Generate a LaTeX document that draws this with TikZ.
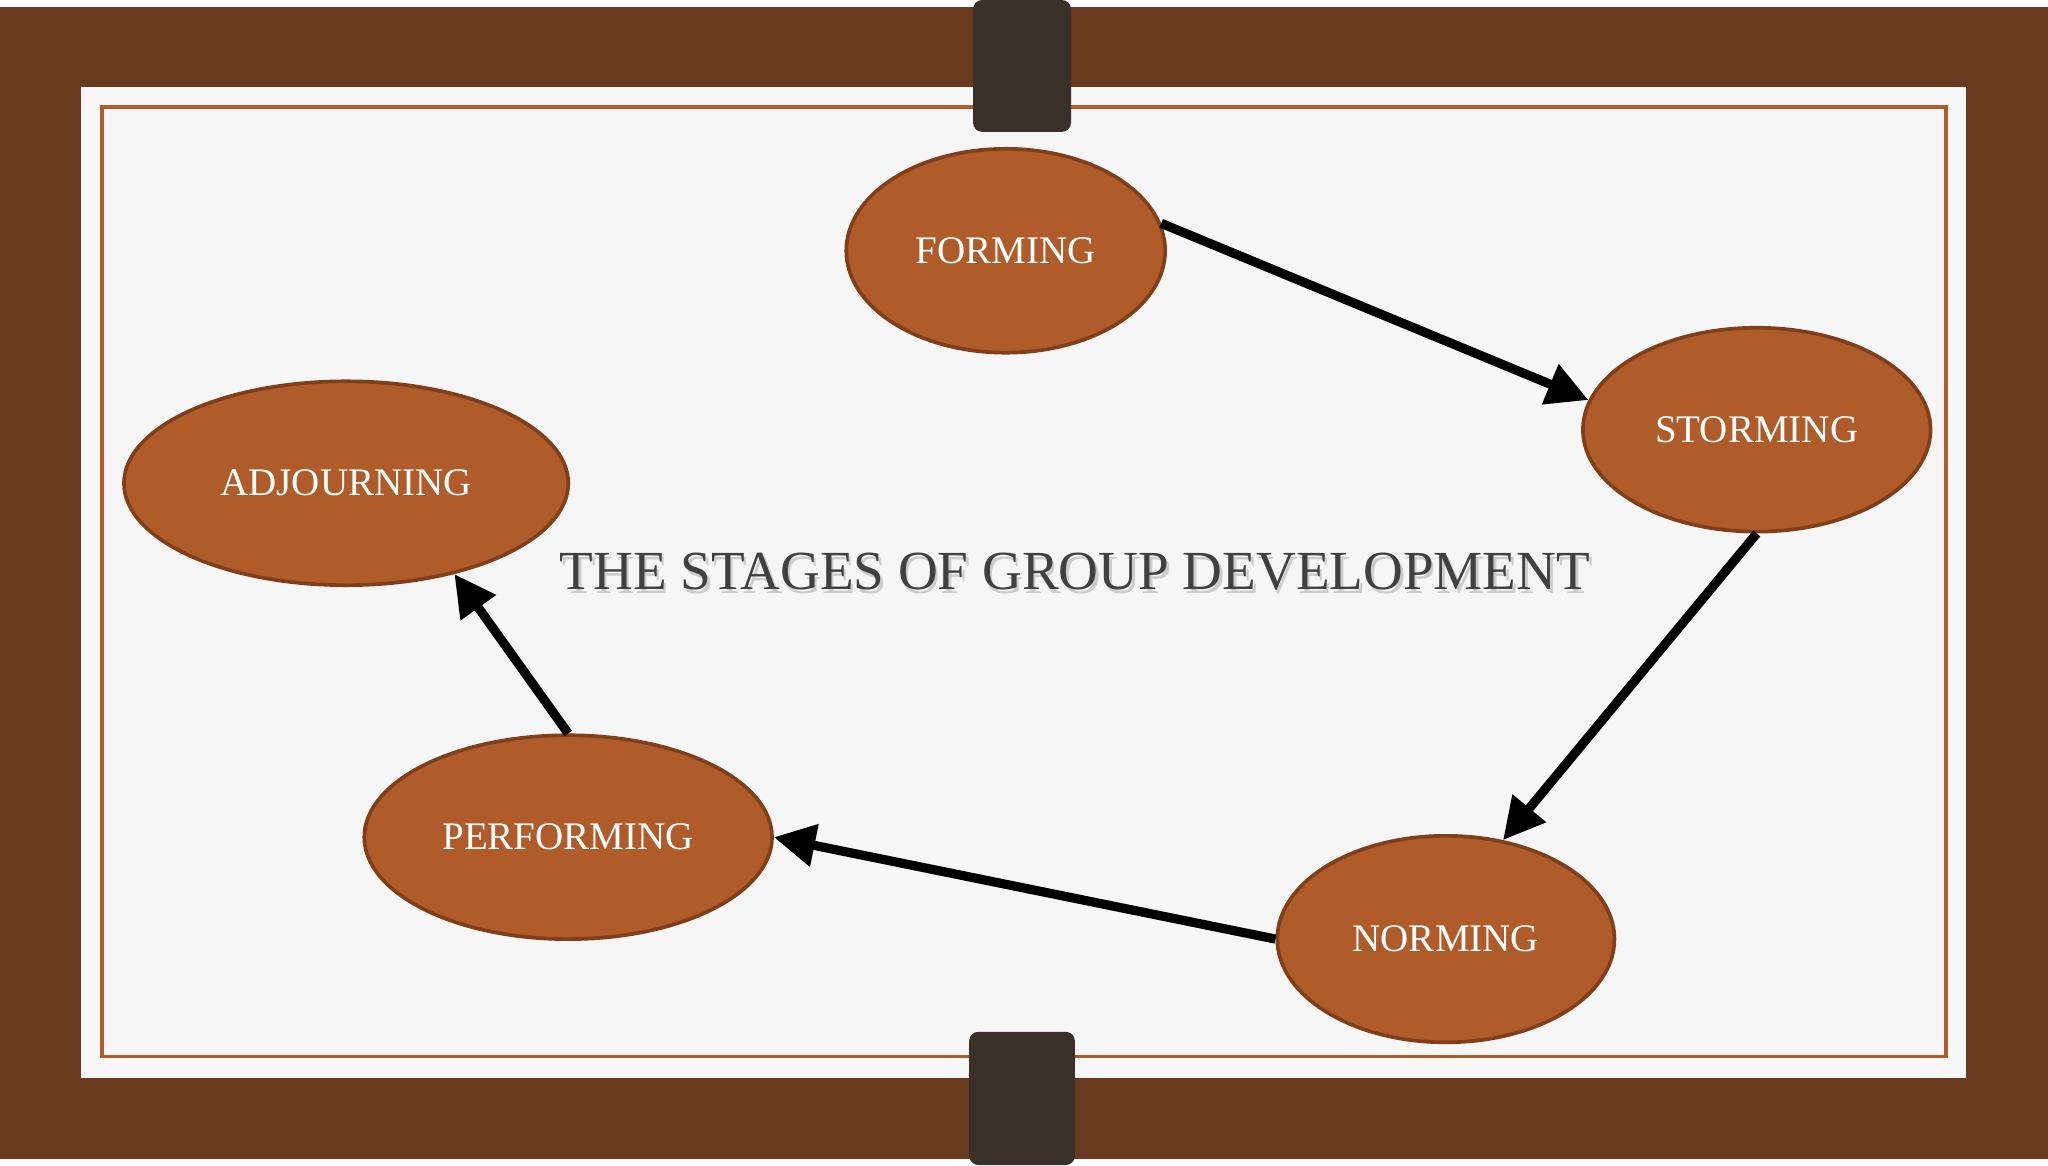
\documentclass[tikz,border=0pt]{standalone}
\usepackage{fontspec}
\setmainfont{Liberation Serif}
\usetikzlibrary{arrows.meta,shapes.geometric}
\definecolor{wood}{RGB}{105,58,30}
\definecolor{paper}{RGB}{246,246,247}
\definecolor{rust}{RGB}{176,92,42}
\definecolor{rustd}{RGB}{130,62,25}
\definecolor{clipcol}{RGB}{58,48,42}
\tikzset{
 stage/.style={ellipse, fill=rust, draw=rustd, line width=0.8pt, text=white, inner sep=0pt, font=\fontsize{8.5}{10}\selectfont},
 flow/.style={line width=2pt, -{Triangle[length=9pt,width=9pt]}}
}
\begin{document}
\begin{tikzpicture}[x=0.01cm,y=-0.01cm]
\fill[wood] (0,0) rectangle (1568,882);
\fill[paper] (62,62) rectangle (1505,820);
\draw[rust, line width=0.8pt] (78,77) rectangle (1490,804);
\fill[clipcol, rounded corners=2pt] (745,-5) rectangle (820,96);
\fill[clipcol, rounded corners=2pt] (742,785) rectangle (823,887);
\node[stage, minimum width=2.44cm, minimum height=1.56cm] (f) at (770,187) {FORMING};
\node[stage, minimum width=2.66cm, minimum height=1.56cm] (s) at (1345,324) {STORMING};
\node[stage, minimum width=2.58cm, minimum height=1.58cm] (n) at (1107,714) {NORMING};
\node[stage, minimum width=3.12cm, minimum height=1.56cm] (p) at (435,636) {PERFORMING};
\node[stage, minimum width=3.4cm, minimum height=1.56cm] (a) at (265,365) {ADJOURNING};
\node[font=\fontsize{12}{14}\selectfont, text=gray!40] at (825,436) {THE STAGES OF GROUP DEVELOPMENT};
\node[font=\fontsize{12}{14}\selectfont, text=black!75] (t) at (823,433) {THE STAGES OF GROUP DEVELOPMENT};
\draw[flow] (f.10) -- (s.170);
\draw[flow] (s.south) -- (n.60);
\draw[flow] (n.west) -- (p.east);
\draw[flow] (p.north) -- (a.-40);
\end{tikzpicture}
\end{document}
